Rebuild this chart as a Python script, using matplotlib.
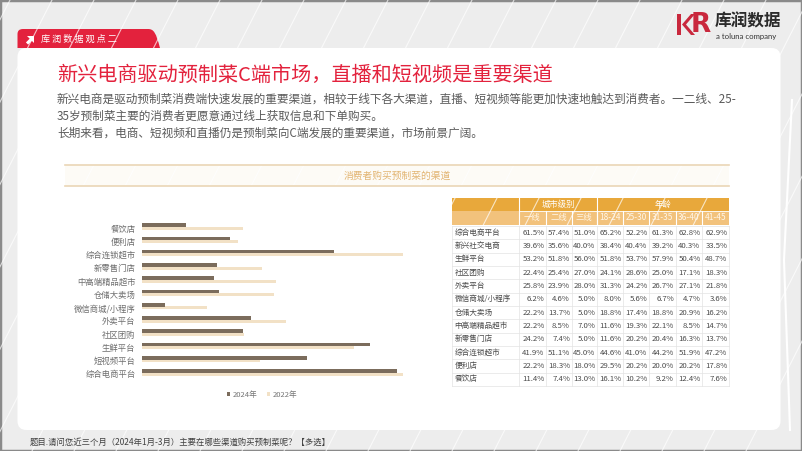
import numpy as np
from matplotlib import pyplot as plt
from matplotlib.patches import Rectangle, FancyBboxPatch, PathPatch, Polygon
from matplotlib.path import Path

plt.rcParams['font.family'] = ['Noto Sans CJK SC', 'DejaVu Sans']

# ---- data ----
# bar chart, listed bottom -> top
channels = ['综合电商平台', '短视频平台', '生鲜平台', '社区团购', '外卖平台', '微信商城/小程序',
            '仓储大卖场', '中高端精品超市', '新零售门店', '综合连锁超市', '便利店', '餐饮店']
share_2024 = [60.7, 39.4, 54.4, 24.2, 26.0, 5.6, 18.4, 17.1, 17.9, 45.9, 21.1, 10.5]
share_2022 = [62.3, 28.2, 50.6, 24.3, 34.4, 15.5, 31.6, 32.0, 28.6, 62.3, 23.0, 24.1]

# table, listed top -> bottom
table_rows = ['综合电商平台', '新兴社交电商', '生鲜平台', '社区团购', '外卖平台', '微信商城/小程序',
              '仓储大卖场', '中高端精品超市', '新零售门店', '综合连锁超市', '便利店', '餐饮店']
city_tiers = ['一线', '二线', '三线']
age_groups = ['18-24', '25-30', '31-35', '36-40', '41-45']
table_values = [
    [61.5, 57.4, 51.0, 65.2, 52.2, 61.3, 62.8, 62.9],
    [39.6, 35.6, 40.0, 38.4, 40.4, 39.2, 40.3, 33.5],
    [53.2, 51.8, 56.0, 51.8, 53.7, 57.9, 50.4, 48.7],
    [22.4, 25.4, 27.0, 24.1, 28.6, 25.0, 17.1, 18.3],
    [25.8, 23.9, 28.0, 31.3, 24.2, 26.7, 27.1, 21.8],
    [6.2, 4.6, 5.0, 8.0, 5.6, 6.7, 4.7, 3.6],
    [22.2, 13.7, 5.0, 18.8, 17.4, 18.8, 20.9, 16.2],
    [22.2, 8.5, 7.0, 11.6, 19.3, 22.1, 8.5, 14.7],
    [24.2, 7.4, 5.0, 11.6, 20.2, 20.4, 16.3, 13.7],
    [41.9, 51.1, 45.0, 44.6, 41.0, 44.2, 51.9, 47.2],
    [22.2, 18.3, 18.0, 29.5, 20.2, 20.0, 20.2, 17.8],
    [11.4, 7.4, 13.0, 16.1, 10.2, 9.2, 12.4, 7.6],
]

W, H = 802, 451
RED = '#e3223d'
DARK = '#7b6c5c'
LIGHT = '#f2e1c6'

fig = plt.figure(figsize=(W / 100, H / 100), dpi=100)

# background layer in pixel coordinates
bg = fig.add_axes([0, 0, 1, 1])
bg.set_xlim(0, W)
bg.set_ylim(H, 0)
bg.axis('off')
bg.add_patch(Rectangle((0, 0), W, H, facecolor='#ededed', edgecolor='#8a8a8a', lw=2.5))
for x0 in range(-200, 1000, 42):
    bg.plot([x0, x0 - 230], [0, H], color='white', lw=0.8, alpha=0.7)
bg.plot([792, 784, 790], [100, 260, 430], color='white', lw=1.5)

# white card
bg.add_patch(FancyBboxPatch((17.5, 48), 763, 382, boxstyle='round,pad=0,rounding_size=9',
                            facecolor='white', edgecolor='none'))

# red tab
tab = Path([(17.5, 48), (17.5, 34), (17.5, 29), (23, 29), (148, 29), (154, 29), (156, 33),
            (160, 48), (17.5, 48)],
           [Path.MOVETO, Path.LINETO, Path.CURVE3, Path.CURVE3, Path.LINETO, Path.CURVE4,
            Path.CURVE4, Path.CURVE4, Path.CLOSEPOLY])
bg.add_patch(PathPatch(tab, facecolor=RED, edgecolor='none'))
# arrow icon
bg.add_patch(Polygon([(27, 35.5), (34, 35.5), (34, 42.5)], facecolor='white', edgecolor='none'))
bg.plot([31.5, 27], [39, 43.5], color='white', lw=2.2, solid_capstyle='butt')
bg.text(41, 39.5, '库 润 数 据 观 点 二', color='white', fontsize=6.6, va='center')

# logo
bg.add_patch(Rectangle((677, 14), 3.5, 21, facecolor='#c9283d', edgecolor='none'))
bg.add_patch(Polygon([(691, 14), (682, 24.5), (691, 35), (695, 35), (686, 24.5), (695, 14)],
                     facecolor='#c9283d', edgecolor='none'))
bg.text(701, 25, 'R', color='#c9283d', fontsize=19, fontweight='bold', ha='center', va='center',
        family='DejaVu Sans')
bg.text(715, 21, '库润数据', color='#2b2b2b', fontsize=12, fontweight='bold', va='center')
bg.text(715.5, 37, 'a toluna company', color='#333333', fontsize=5.6, va='center', family='Lato')

# title and text
bg.text(57, 75, '新兴电商驱动预制菜C端市场，直播和短视频是重要渠道', color=RED, fontsize=14.5,
        va='center')
body = ['新兴电商是驱动预制菜消费端快速发展的重要渠道，相较于线下各大渠道，直播、短视频等能更加快速地触达到消费者。一二线、25-',
        '35岁预制菜主要的消费者更愿意通过线上获取信息和下单购买。',
        '长期来看，电商、短视频和直播仍是预制菜向C端发展的重要渠道，市场前景广阔。']
for i, line in enumerate(body):
    bg.text(57, 99.5 + i * 16.7, line, color='#5a5a5a', fontsize=8.4, va='center')

# chart heading band
bg.add_patch(Rectangle((65, 165), 664, 21, facecolor='#fdfbf6', edgecolor='none'))
bg.plot([65, 729], [165, 165], color='#ead6b6', lw=1.2)
bg.plot([65, 729], [186, 186], color='#ead6b6', lw=1.2)
bg.text(397, 176, '消费者购买预制菜的渠道', color='#e2b471', fontsize=7, ha='center', va='center')

# footer
bg.text(30, 442.5, '题目.请问您近三个月（2024年1月-3月）主要在哪些渠道购买预制菜呢？【多选】',
        color='#404040', fontsize=6, va='center')

# ---- bar chart ----
ax = fig.add_axes([141.7 / W, (H - 380.6) / H, 294 / W, 159.2 / H])
y = np.arange(len(channels))
ax.barh(y + 0.22, share_2024, height=0.27, color=DARK, label='2024年', zorder=3)
ax.barh(y - 0.02, share_2022, height=0.23, color=LIGHT, label='2022年', zorder=2)
ax.set_xlim(0, 70)
ax.set_ylim(-0.5, 11.5)
ax.set_yticks(y, channels)
ax.set_xticks([])
ax.tick_params(axis='y', length=0, pad=4.5, labelsize=6, labelcolor='#6e6e6e')
for s in ax.spines.values():
    s.set_visible(False)
ax.patch.set_alpha(0)
ax.legend(loc='center', bbox_to_anchor=(262 / W, 1 - 395 / H), bbox_transform=fig.transFigure,
          ncol=2, frameon=False, fontsize=5.5, handlelength=0.5, handleheight=0.5,
          handletextpad=0.3, columnspacing=1.2, labelcolor='#777777')

# ---- table ----
col_edges = [452, 519, 546, 571.5, 597, 623, 649, 675.5, 702, 729]
hdr1 = (197.5, 210.7)
hdr2 = (210.7, 224.5)
row_top, row_h = 226, 13.33

bg.add_patch(Rectangle((col_edges[0], hdr1[0]), col_edges[-1] - col_edges[0], hdr1[1] - hdr1[0],
                       facecolor='#e8a83b', edgecolor='none'))
bg.add_patch(Rectangle((col_edges[0], hdr2[0]), col_edges[-1] - col_edges[0], hdr2[1] - hdr2[0],
                       facecolor='#f2c27c', edgecolor='none'))
for xe in [col_edges[1], col_edges[4]]:
    bg.plot([xe, xe], [hdr1[0], hdr2[1]], color='white', lw=0.8)
for xe in col_edges[2:-1]:
    bg.plot([xe, xe], [hdr2[0], hdr2[1]], color='white', lw=0.8)
bg.plot([col_edges[1], col_edges[-1]], [hdr1[1], hdr1[1]], color='white', lw=0.6)
bg.text((col_edges[1] + col_edges[4]) / 2, sum(hdr1) / 2, '城市级别', color='white', fontsize=6,
        ha='center', va='center')
bg.text((col_edges[4] + col_edges[-1]) / 2, sum(hdr1) / 2, '年龄', color='white', fontsize=6,
        ha='center', va='center')
for j, lab in enumerate(city_tiers + age_groups):
    bg.text((col_edges[j + 1] + col_edges[j + 2]) / 2, sum(hdr2) / 2, lab, color='#fff6e8',
            fontsize=6, ha='center', va='center')

n = len(table_rows)
table_bottom = row_top + n * row_h
for i in range(n + 1):
    yy = row_top + i * row_h
    bg.plot([col_edges[0], col_edges[-1]], [yy, yy], color='#e3e3e3', lw=0.5)
for xe in col_edges:
    bg.plot([xe, xe], [row_top, table_bottom], color='#e3e3e3', lw=0.5)
for i, (name, vals) in enumerate(zip(table_rows, table_values)):
    yc = row_top + (i + 0.5) * row_h
    bg.text(col_edges[0] + 2.5, yc, name, color='#4a4a4a', fontsize=5.5, va='center')
    for j, v in enumerate(vals):
        bg.text(col_edges[j + 2] - 1.5, yc, f'{v:.1f}%', color='#4a4a4a', fontsize=5.6,
                ha='right', va='center')

fig.savefig('out.png', dpi=100)
